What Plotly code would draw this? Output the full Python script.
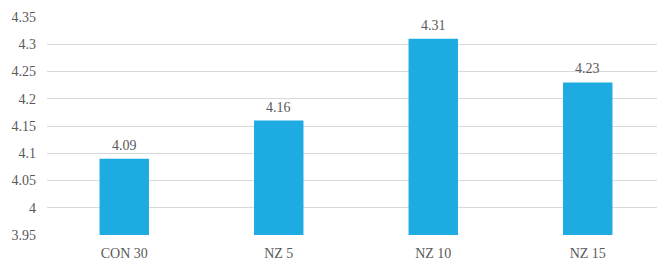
import plotly.graph_objects as go

categories = ["CON 30", "NZ 5", "NZ 10", "NZ 15"]
values = [4.09, 4.16, 4.31, 4.23]
tick_vals = [3.95, 4.0, 4.05, 4.1, 4.15, 4.2, 4.25, 4.3, 4.35]
tick_text = ["3.95", "4", "4.05", "4.1", "4.15", "4.2", "4.25", "4.3", "4.35"]
value_labels = ["4.09", "4.16", "4.31", "4.23"]

font_family = "Liberation Serif"
gray = "#595959"

fig = go.Figure(go.Bar(
    x=categories, y=values, width=0.32,
    marker=dict(color="#1EABE2", line=dict(width=0)),
    hoverinfo="x+y",
))

for cat, val, lab in zip(categories, values, value_labels):
    fig.add_annotation(x=cat, y=val, text=lab, showarrow=False,
                       yanchor="bottom", yshift=4,
                       font=dict(family=font_family, size=14, color=gray))

fig.update_layout(
    width=657, height=254,
    margin=dict(l=39, r=0, t=9, b=27),
    paper_bgcolor="white", plot_bgcolor="white",
    showlegend=False,
    font=dict(family=font_family, size=14, color=gray),
    xaxis=dict(showgrid=False, showline=False, ticks="", ticklabelstandoff=8,
               tickfont=dict(family=font_family, size=14, color=gray)),
    yaxis=dict(range=[3.95, 4.35], tickvals=tick_vals, ticktext=tick_text,
               showgrid=True, gridcolor="#D9D9D9", gridwidth=1,
               zeroline=False, showline=False, ticks="", ticklabelstandoff=10,
               tickfont=dict(family=font_family, size=14, color=gray)),
    bargap=0.68,
)

fig.write_html("out.html")
